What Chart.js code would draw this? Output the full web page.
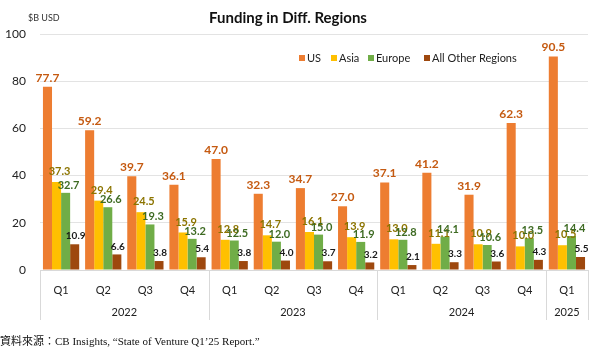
<!DOCTYPE html>
<html>
<head>
<meta charset="utf-8">
<script src="https://cdn.jsdelivr.net/npm/chart.js@4.4.1/dist/chart.umd.min.js"></script>
<style>
  html, body { margin: 0; padding: 0; background: #fff; }
  #chart { display: block; }
</style>
</head>
<body>
<canvas id="chart" width="600" height="349"></canvas>
<script>
// ===== Data =====
const quarters = ['Q1', 'Q2', 'Q3', 'Q4', 'Q1', 'Q2', 'Q3', 'Q4', 'Q1', 'Q2', 'Q3', 'Q4', 'Q1'];
const years = ['2022', '2023', '2024', '2025'];
const yearSpans = [4, 4, 4, 1];
const usVals     = [77.7, 59.2, 39.7, 36.1, 47.0, 32.3, 34.7, 27.0, 37.1, 41.2, 31.9, 62.3, 90.5];
const asiaVals   = [37.3, 29.4, 24.5, 15.9, 12.8, 14.7, 16.1, 13.9, 13.0, 11.1, 10.9, 10.0, 10.5];
const europeVals = [32.7, 26.6, 19.3, 13.2, 12.5, 12.0, 15.0, 11.9, 12.8, 14.1, 10.6, 13.5, 14.4];
const otherVals  = [10.9, 6.6, 3.8, 5.4, 3.8, 4.0, 3.7, 3.2, 2.1, 3.3, 3.6, 4.3, 5.5];
const yTicks = [0, 20, 40, 60, 80, 100];

const FONT = 'Lato, "Open Sans", sans-serif';

// label styling per series: colour, font size, vertical gap, horizontal nudge
const labelStyles = [
  { color: '#C55A11', size: 12, gap: 3, dx: 0 },
  { color: '#8C7400', size: 11, gap: 5, dx: 3 },
  { color: '#3E6B23', size: 11, gap: 2, dx: 3 },
  { color: '#1a1a1a', size: 10, gap: 3, dx: 1 }
];

// ===== Custom drawing: title, legend, labels, year groups, footer =====
const decorPlugin = {
  id: 'decor',
  afterDatasetsDraw(chart) {
    const ctx = chart.ctx;
    ctx.save();
    ctx.textAlign = 'center';
    ctx.textBaseline = 'bottom';
    chart.data.datasets.forEach((ds, i) => {
      const st = labelStyles[i];
      ctx.fillStyle = st.color;
      ctx.font = `bold ${st.size}px ${FONT}`;
      chart.getDatasetMeta(i).data.forEach((bar, j) => {
        ctx.fillText(ds.data[j].toFixed(1), bar.x + st.dx, bar.y - st.gap);
      });
    });
    ctx.restore();
  },
  afterDraw(chart) {
    const ctx = chart.ctx;
    const area = chart.chartArea;
    const x = chart.scales.x;
    ctx.save();

    // title + unit
    ctx.fillStyle = '#111';
    ctx.textBaseline = 'middle';
    ctx.textAlign = 'center';
    ctx.font = `bold 15px ${FONT}`;
    ctx.fillText('Funding in Diff. Regions', 288, 18);
    ctx.textAlign = 'left';
    ctx.font = `9px ${FONT}`;
    ctx.fillStyle = '#333';
    ctx.fillText('$B USD', 28, 18);

    // legend
    const legendX = [299, 331, 368, 424];
    ctx.font = `11px ${FONT}`;
    chart.data.datasets.forEach((ds, i) => {
      ctx.fillStyle = ds.backgroundColor;
      ctx.fillRect(legendX[i], 55, 6, 6);
      ctx.fillStyle = '#222';
      ctx.fillText(ds.label, legendX[i] + 8, 58);
    });

    // year separators and labels
    ctx.strokeStyle = '#d9d9d9';
    ctx.lineWidth = 1;
    const half = (x.getPixelForValue(1) - x.getPixelForValue(0)) / 2;
    let start = 0;
    const edges = [area.left];
    yearSpans.forEach(n => {
      start += n;
      edges.push(start >= quarters.length ? area.right : x.getPixelForValue(start) - half);
    });
    edges.forEach(ex => {
      const px = Math.round(ex) + 0.5;
      ctx.beginPath();
      ctx.moveTo(px, area.bottom);
      ctx.lineTo(px, 320);
      ctx.stroke();
    });
    ctx.fillStyle = '#222';
    ctx.textAlign = 'center';
    ctx.font = `11px ${FONT}`;
    years.forEach((yr, k) => {
      ctx.fillText(yr, (edges[k] + edges[k + 1]) / 2, 312);
    });

    // source note
    ctx.textAlign = 'left';
    ctx.fillStyle = '#111';
    ctx.font = '11px "Liberation Serif", "Noto Sans CJK TC", serif';
    ctx.fillText('資料來源：CB Insights, “State of Venture Q1’25 Report.”', 0, 342);
    ctx.restore();
  }
};

new Chart(document.getElementById('chart'), {
  type: 'bar',
  data: {
    labels: quarters,
    datasets: [
      { label: 'US', data: usVals, backgroundColor: '#ED7D31' },
      { label: 'Asia', data: asiaVals, backgroundColor: '#FFC000' },
      { label: 'Europe', data: europeVals, backgroundColor: '#70AD47' },
      { label: 'All Other Regions', data: otherVals, backgroundColor: '#9E480E' }
    ]
  },
  options: {
    responsive: false,
    animation: false,
    layout: { padding: { top: 34, left: 0, right: 12, bottom: 0 } },
    datasets: { bar: { categoryPercentage: 0.86, barPercentage: 1.0 } },
    plugins: { legend: { display: false }, tooltip: { enabled: false } },
    scales: {
      y: {
        min: 0, max: 100,
        afterFit: s => { s.width = 40; },
        afterBuildTicks: s => { s.ticks = yTicks.map(v => ({ value: v })); },
        ticks: { padding: 14, color: '#222', font: { family: FONT, size: 12 } },
        grid: { color: '#e3e3e3', drawTicks: false },
        border: { display: false }
      },
      x: {
        afterFit: s => { s.height = 79; },
        ticks: { padding: 6, color: '#222', font: { family: FONT, size: 11 }, maxRotation: 0 },
        grid: { display: false },
        border: { color: '#d9d9d9' }
      }
    }
  },
  plugins: [decorPlugin]
});
</script>
</body>
</html>
